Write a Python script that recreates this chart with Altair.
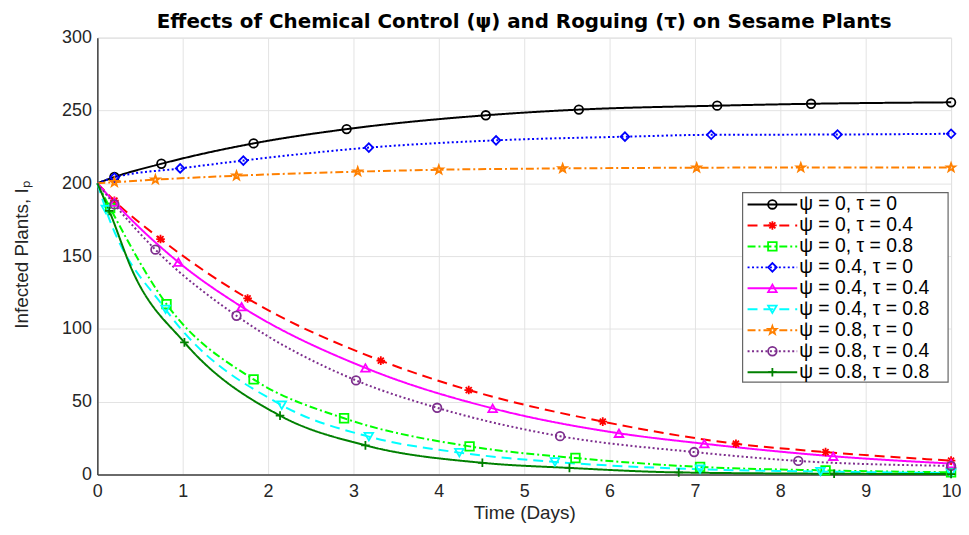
import math
import altair as alt
import pandas as pd

# ---------------- data ----------------
SERIES = [
    "ψ = 0, τ = 0", "ψ = 0, τ = 0.4", "ψ = 0, τ = 0.8",
    "ψ = 0.4, τ = 0", "ψ = 0.4, τ = 0.4", "ψ = 0.4, τ = 0.8",
    "ψ = 0.8, τ = 0", "ψ = 0.8, τ = 0.4", "ψ = 0.8, τ = 0.8",
]
START_T = 0.0
START_V = 200.0

MT_00 = [0.2, 0.75, 1.83, 2.92, 4.55, 5.64, 7.26, 8.36, 10.0]
MV_00 = [204.3, 213.4, 227.4, 237.2, 246.7, 250.6, 253.3, 254.6, 255.6]
MT_004 = [0.2, 0.74, 1.76, 3.32, 4.35, 5.92, 7.48, 8.53, 10.0]
MV_004 = [188.0, 161.7, 120.9, 78.2, 58.0, 36.3, 21.1, 15.4, 9.5]
MT_008 = [0.15, 0.81, 1.83, 2.89, 4.36, 5.6, 7.06, 8.53, 10.0]
MV_008 = [183.0, 117.0, 65.3, 38.6, 19.3, 11.3, 5.2, 2.8, 1.5]
MT_040 = [0.2, 0.97, 1.71, 3.18, 4.67, 6.18, 7.19, 8.67, 10.0]
MV_040 = [204.0, 210.2, 215.6, 224.5, 229.5, 232.0, 233.3, 233.5, 234.0]
MT_044 = [0.2, 0.95, 1.69, 3.14, 4.63, 6.11, 7.11, 8.62, 10.0]
MV_044 = [187.0, 145.8, 115.2, 73.2, 45.4, 28.3, 21.1, 12.5, 7.5]
MT_048 = [0.1, 0.8, 2.16, 3.18, 4.24, 5.36, 7.06, 8.47, 10.0]
MV_048 = [182.0, 113.4, 47.6, 26.0, 15.0, 8.6, 3.6, 2.0, 1.0]
MT_080 = [0.2, 0.68, 1.63, 3.05, 4.0, 5.45, 7.02, 8.24, 10.0]
MV_080 = [200.7, 202.5, 205.2, 208.0, 209.3, 210.2, 210.7, 210.8, 210.8]
MT_084 = [0.2, 0.68, 1.63, 3.03, 3.98, 5.42, 6.99, 8.21, 10.0]
MV_084 = [185.5, 154.4, 109.0, 64.6, 45.8, 26.3, 15.4, 9.3, 5.9]
MT_088 = [0.14, 1.02, 2.14, 3.14, 4.51, 5.53, 6.81, 8.63, 10.0]
MV_088 = [181.0, 90.7, 40.4, 20.0, 8.0, 4.5, 1.4, 0.5, 0.3]

# extra points (not markers)
EXTRA_T_088 = [0.41]
EXTRA_V_088 = [140.0]

MARK_T = [MT_00, MT_004, MT_008, MT_040, MT_044, MT_048, MT_080, MT_084, MT_088]
MARK_V = [MV_00, MV_004, MV_008, MV_040, MV_044, MV_048, MV_080, MV_084, MV_088]

X_TICKS = list(range(0, 11))
Y_TICKS = list(range(0, 301, 50))

# ---------------- styles ----------------
COLORS = ["#000000", "#FF0000", "#00FF00", "#0000FF", "#FF00FF",
          "#00FFFF", "#FF8000", "#7E2F8E", "#008000"]
DASHES = [[1, 0], [10, 6], [8, 3, 2, 3], [2, 2.5], [1, 0],
          [10, 6], [8, 3, 2, 3], [2, 2.5], [1, 0]]

ASTERISK = "M-1,0L1,0M0,-1L0,1M-0.7,-0.7L0.7,0.7M-0.7,0.7L0.7,-0.7"
PLUS = "M-1,0L1,0M0,-1L0,1"
pts = []
for k in range(10):
    r = 1.0 if k % 2 == 0 else 0.4
    a = math.radians(-90 + 36 * k)
    pts.append(f"{r*math.cos(a):.3f},{r*math.sin(a):.3f}")
PENTAGRAM = "M" + "L".join(pts) + "Z"
SHAPES = ["circle", ASTERISK, "square", "diamond", "triangle-up",
          "triangle-down", PENTAGRAM, "circle", PLUS]

# ---------------- tables ----------------
line_rows, mark_rows = [], []
for i, s in enumerate(SERIES):
    lt = [START_T] + MARK_T[i]
    lv = [START_V] + MARK_V[i]
    if i == 8:
        lt = lt + EXTRA_T_088
        lv = lv + EXTRA_V_088
    for t, v in sorted(zip(lt, lv)):
        line_rows.append({"series": s, "t": t, "v": v})
    for t, v in zip(MARK_T[i], MARK_V[i]):
        mark_rows.append({"series": s, "t": t, "v": v})
lines_df = pd.DataFrame(line_rows)
marks_df = pd.DataFrame(mark_rows)
legend_df = pd.DataFrame({"series": SERIES, "row": list(range(len(SERIES)))})

color_scale = alt.Scale(domain=SERIES, range=COLORS)
dash_scale = alt.Scale(domain=SERIES, range=DASHES)
shape_scale = alt.Scale(domain=SERIES, range=SHAPES)

FONT = "Liberation Sans"
PLOT_H = 440

x_enc = alt.X("t:Q", scale=alt.Scale(domain=[0, 10], nice=False),
              axis=alt.Axis(values=X_TICKS, format="d", labelFlush=False,
                            title="Time (Days)",
                            titleX=430, titleY=38, titleBaseline="middle"))
y_enc = alt.Y("v:Q", scale=alt.Scale(domain=[0, 300], nice=False),
              axis=alt.Axis(values=Y_TICKS, format="d",
                            title="Infected Plants, Iₚ",
                            titleX=-76, titleY=218, titleAngle=-90,
                            titleAlign="center", titleBaseline="middle"))

lines = alt.Chart(lines_df).mark_line(strokeWidth=2, interpolate="monotone").encode(
    x=x_enc, y=y_enc,
    color=alt.Color("series:N", scale=color_scale, legend=None),
    strokeDash=alt.StrokeDash("series:N", scale=dash_scale, legend=None),
    detail="series:N",
    order="t:Q",
)
markers = alt.Chart(marks_df).mark_point(filled=False, strokeWidth=1.8, size=75, opacity=1).encode(
    x="t:Q", y="v:Q",
    color=alt.Color("series:N", scale=color_scale, legend=None),
    shape=alt.Shape("series:N", scale=shape_scale, legend=None),
)
main = alt.layer(lines, markers)

# ---------------- legend (inside plot) ----------------
ly = alt.Y("row:Q", scale=alt.Scale(domain=[0, 8], range=[168, 337]), axis=None)
box = alt.Chart(pd.DataFrame({"a": [0]})).mark_rect(
    fill="white", stroke="#666666", strokeWidth=1.2).encode(
    x=alt.value(650), x2=alt.value(857), y=alt.value(156), y2=alt.value(347))
leg_lines = alt.Chart(legend_df).mark_rule(strokeWidth=2).encode(
    x=alt.value(655), x2=alt.value(705), y=ly,
    color=alt.Color("series:N", scale=color_scale, legend=None),
    strokeDash=alt.StrokeDash("series:N", scale=dash_scale, legend=None),
)
leg_marks = alt.Chart(legend_df).mark_point(filled=False, strokeWidth=1.8, size=75, opacity=1).encode(
    x=alt.value(680), y=ly,
    color=alt.Color("series:N", scale=color_scale, legend=None),
    shape=alt.Shape("series:N", scale=shape_scale, legend=None),
)
leg_text = alt.Chart(legend_df).mark_text(
    align="left", baseline="middle", font=FONT, fontSize=19.5, color="#000000").encode(
    x=alt.value(707), y=ly, text="series:N")
legend = alt.layer(box, leg_lines, leg_marks, leg_text)

chart = alt.layer(main, legend).resolve_scale(y="independent").properties(
    width=860, height=PLOT_H,
    title=alt.TitleParams(
        "Effects of Chemical Control (ψ) and Roguing (τ) on  Sesame Plants",
        font="DejaVu Sans", fontSize=20, fontWeight="bold", color="#000000",
        anchor="middle", offset=8, frame="group", dy=11),
    autosize=alt.AutoSizeParams(type="none"),
    padding={"left": 90, "top": 28, "right": 10, "bottom": 49},
).configure_view(
    stroke="#d9d9d9", strokeWidth=1
).configure_axis(
    labelFont=FONT, labelFontSize=18, labelColor="#262626",
    titleFont=FONT, titleFontSize=19, titleColor="#262626", titleFontWeight="normal",
    grid=True, gridColor="#e3e3e3", gridWidth=1,
    domainColor="#404040", domainWidth=1.5,
    ticks=False,
).configure_axisX(labelPadding=8).configure_axisY(labelPadding=6)

chart.save("out.html", embed_options={"renderer": "svg", "actions": False})
